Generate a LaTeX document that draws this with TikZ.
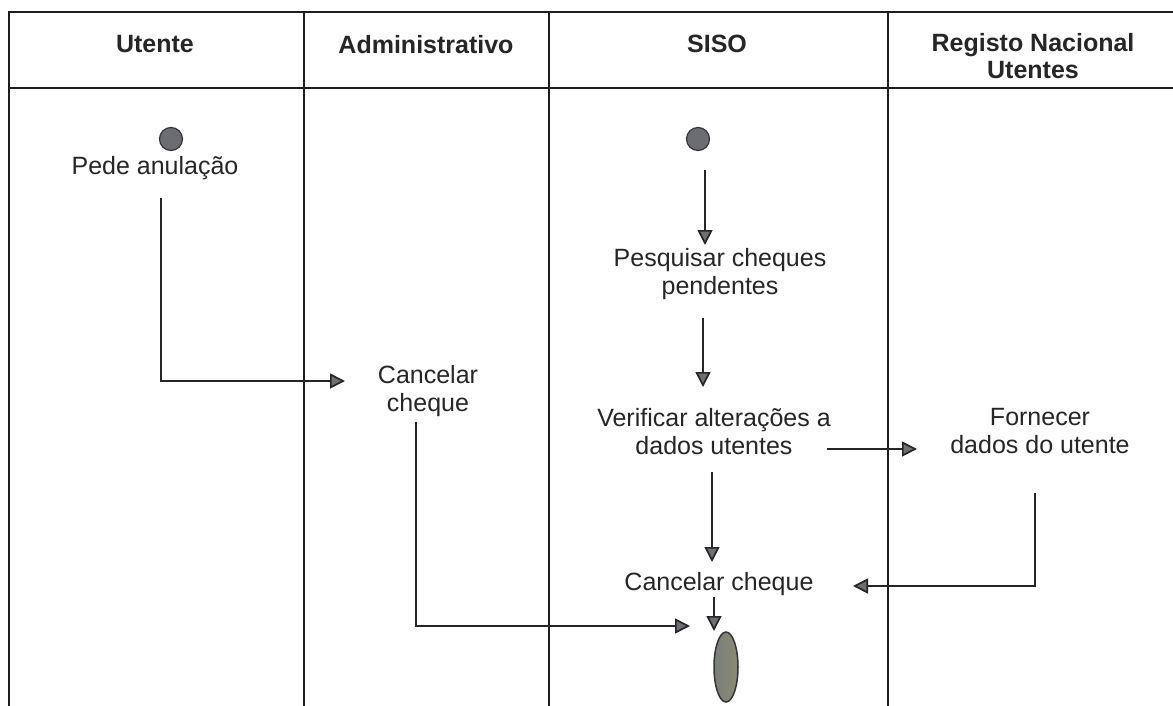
\documentclass[tikz,border=0pt]{standalone}
\usepackage{fontspec}
\setmainfont{Liberation Sans}
\usetikzlibrary{arrows.meta,shapes.geometric}
\definecolor{ink}{HTML}{262626}
\definecolor{rule}{HTML}{1E1E1E}
\definecolor{tipgray}{HTML}{6E6E74}
\definecolor{dotfill}{HTML}{6C6D73}
\definecolor{dotedge}{HTML}{353535}
\definecolor{endleft}{HTML}{7A7E7C}
\definecolor{endright}{HTML}{8A8B70}
\begin{document}
\begin{tikzpicture}[x=1pt,y=-1pt,
  lane/.style={draw=rule, line width=1.5pt},
  head/.style={font=\fontsize{25}{27}\selectfont\bfseries, text=ink, align=center, anchor=north, inner sep=0pt},
  act/.style={font=\fontsize{25}{28.5}\selectfont, text=ink, align=center, anchor=north, inner sep=0pt},
  link/.style={draw=ink, line width=1.7pt},
  flow/.style={link, -{Triangle[length=15pt,width=15pt,fill=tipgray]}},
  startdot/.style={circle, draw=dotedge, line width=1.2pt, fill=dotfill, minimum size=23pt, inner sep=0pt},
  enddot/.style={ellipse, draw=dotedge, line width=1.5pt, minimum width=24pt, minimum height=70pt, inner sep=0pt, left color=endleft, right color=endright}
]
\useasboundingbox (0,0) rectangle (1173,706);

% swimlane frame
\draw[lane] (9,706) -- (9,12) -- (1173,12);
\draw[lane] (9,88) -- (1173,88);
\foreach \xx in {304,549,888}
  \draw[lane] (\xx,12) -- (\xx,706);

% lane headers
\node[head] (hUtente) at (155,35) {Utente};
\node[head] (hAdmin) at (426,35) {Administrativo};
\node[head] (hSiso) at (717,35) {SISO};
\node[head] (hRnu) at (1033,33) {Registo Nacional\\Utentes};

% initial states
\node[startdot] (s0) at (171,139) {};
\node[startdot] (s1) at (698,139) {};

% activities
\node[act] (pede) at (155,156) {Pede anulação};
\node[act] (canc1) at (428,365) {Cancelar\\cheque};
\node[act] (pesq) at (720,248) {Pesquisar cheques\\pendentes};
\node[act] (verif) at (714,408) {Verificar alterações a\\dados utentes};
\node[act] (forn) at (1040,408) {Fornecer\\dados do utente};
\node[act] (canc2) at (719,572) {Cancelar cheque};

% final state
\node[enddot] (fim) at (726,667) {};

% transitions
\draw[flow] ([shift={(6,42)}]pede.north) |- ([shift={(-83,16)}]canc1.north);
\draw[flow] ([shift={(-12,57)}]canc1.north) |- ([shift={(-36,-41)}]fim.center);
\draw[flow] ([shift={(7,31)}]s1.center) -- ([shift={(-15,-3)}]pesq.north);
\draw[flow] ([shift={(-17,70)}]pesq.north) -- ([shift={(-11,-21)}]verif.north);
\draw[flow] ([shift={(113,41)}]verif.north) -- ([shift={(-123,41)}]forn.north);
\draw[flow] ([shift={(-2,64)}]verif.north) -- ([shift={(-7,-10)}]canc2.north);
\draw[flow] ([shift={(-5,85)}]forn.north) |- ([shift={(134,14)}]canc2.north);
\draw[flow] ([shift={(-5,25)}]canc2.north) -- ([shift={(-12,-36)}]fim.center);
\end{tikzpicture}
\end{document}
